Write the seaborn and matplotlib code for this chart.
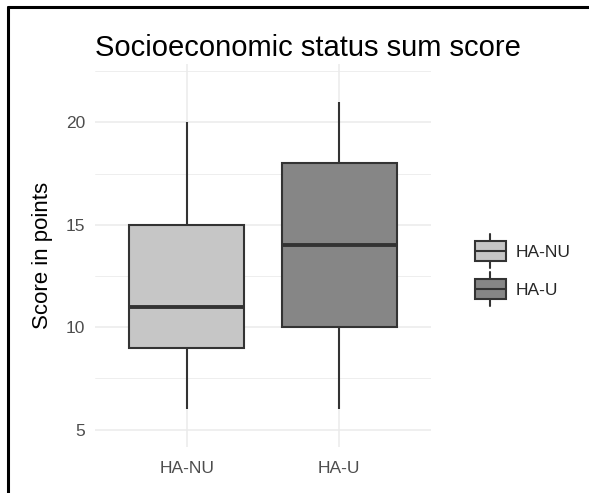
import numpy as np
import pandas as pd
import seaborn as sns
from matplotlib import pyplot as plt
from matplotlib.lines import Line2D
from matplotlib.patches import Rectangle, Patch
from matplotlib.legend_handler import HandlerBase

# groups and box summary values (min, Q1, median, Q3, max)
groups = ['HA-NU', 'HA-U']
ha_nu_scores = [6, 9, 11, 15, 20]
ha_u_scores = [6, 10, 14, 18, 21]
fill_colors = ['#C6C6C6', '#868686']
y_ticks = [5, 10, 15, 20]
y_minor = [7.5, 12.5, 17.5, 22.5]

df = pd.DataFrame({
    'group': [groups[0]] * len(ha_nu_scores) + [groups[1]] * len(ha_u_scores),
    'score': ha_nu_scores + ha_u_scores,
})

sns.set_theme(style='white')
plt.rcParams['font.family'] = ['Liberation Sans', 'DejaVu Sans']

edge = '#333333'


# legend key drawn like a little boxplot (ggplot style)
class BoxKey(HandlerBase):
    def create_artists(self, legend, orig_handle, xdescent, ydescent,
                       width, height, fontsize, trans):
        x0, y0 = -xdescent, -ydescent
        whisk = Line2D([x0 + width / 2] * 2, [y0 - 0.35 * height, y0 + 1.35 * height],
                       color=edge, lw=1.5, transform=trans)
        box = Rectangle((x0, y0), width, height, facecolor=orig_handle.get_facecolor(),
                        edgecolor=edge, lw=1.5, transform=trans)
        med = Line2D([x0, x0 + width], [y0 + height / 2] * 2, color=edge, lw=1.5,
                     transform=trans)
        return [whisk, box, med]


fig = plt.figure(figsize=(5.89, 4.93), dpi=100)
ax = fig.add_axes([95 / 589, 1 - 447 / 493, 336 / 589, 383 / 493])

sns.boxplot(data=df, x='group', y='score', hue='group', palette=fill_colors,
            saturation=1, legend=False, width=0.75, linecolor=edge, linewidth=1.5,
            showcaps=False, whis=np.inf, showfliers=False,
            medianprops={'linewidth': 2.8}, ax=ax, zorder=3)

ax.set_xlim(-0.6, 1.6)
ax.set_ylim(4.15, 22.85)
ax.set_yticks(y_ticks)
ax.set_yticks(y_minor, minor=True)
ax.grid(True, which='major', color='#EBEBEB', lw=1.1, zorder=0)
ax.grid(True, which='minor', axis='y', color='#EBEBEB', lw=0.6, zorder=0)
ax.set_axisbelow(True)
for s in ax.spines.values():
    s.set_visible(False)
ax.tick_params(axis='both', which='both', length=0, labelsize=12.5, labelcolor='#4D4D4D')
ax.tick_params(axis='x', pad=10)
ax.tick_params(axis='y', pad=7)

ax.set_xlabel('')
ax.set_ylabel('Score in points', fontsize=16, color='black', va='center')
ax.yaxis.set_label_coords(-52 / 336, 0.5)
ax.set_title('Socioeconomic status sum score', loc='left', fontsize=21, pad=6, color='black')

handles = [Patch(facecolor=c) for c in fill_colors]
fig.legend(handles, groups, handler_map={Patch: BoxKey()}, loc='upper left',
           bbox_to_anchor=(475 / 589, 1 - 241 / 493), frameon=False, borderpad=0,
           fontsize=12.5, handlelength=1.78, handleheight=1.39, labelspacing=1.05,
           handletextpad=0.57, borderaxespad=0)

# black frame lines at the top and left of the picture
fig.add_artist(Line2D([8 / 589, 1], [1 - 7 / 493] * 2, transform=fig.transFigure,
                      color='black', lw=2.2))
fig.add_artist(Line2D([8 / 589] * 2, [0, 1 - 7 / 493], transform=fig.transFigure,
                      color='black', lw=2.2))

fig.savefig('out.png', dpi=100)
